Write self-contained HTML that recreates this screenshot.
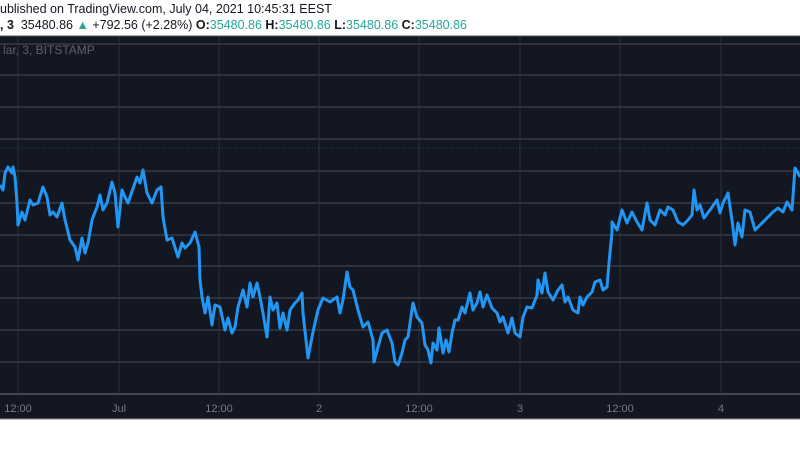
<!DOCTYPE html>
<html><head><meta charset="utf-8"><style>
body{margin:0;width:800px;height:450px;background:#fff;overflow:hidden;font-family:"Liberation Sans",sans-serif}
.h{position:absolute;left:0;font-size:12.5px;color:#131722;white-space:nowrap}
.g{color:#26a69a}
</style></head><body>
<div class="h" style="top:2px">ublished on TradingView.com, July 04, 2021 10:45:31 EEST</div>
<div class="h" style="top:18px"><b>, 3</b>&nbsp; 35480.86 <span class="g">▲</span> +792.56 (+2.28%) <b>O:</b><span class="g">35480.86</span> <b>H:</b><span class="g">35480.86</span> <b>L:</b><span class="g">35480.86</span> <b>C:</b><span class="g">35480.86</span></div>
<svg width="800" height="450" style="position:absolute;left:0;top:0">
<rect x="0" y="36" width="800" height="383" fill="#131722"/>
<line x1="0" y1="36" x2="800" y2="36" fill="none" stroke="#555" stroke-width="1"/>
<g stroke="#4a4e59" stroke-width="1">
<line x1="0" y1="44" x2="800" y2="44"/><line x1="0" y1="75" x2="800" y2="75"/><line x1="0" y1="107" x2="800" y2="107"/><line x1="0" y1="139" x2="800" y2="139"/><line x1="0" y1="171" x2="800" y2="171"/><line x1="0" y1="203" x2="800" y2="203"/><line x1="0" y1="235" x2="800" y2="235"/><line x1="0" y1="266" x2="800" y2="266"/><line x1="0" y1="298" x2="800" y2="298"/><line x1="0" y1="330" x2="800" y2="330"/><line x1="0" y1="362" x2="800" y2="362"/>
</g>
<g stroke="#2e323d" stroke-width="1">
<line x1="18" y1="36" x2="18" y2="394"/><line x1="119" y1="36" x2="119" y2="394"/><line x1="219" y1="36" x2="219" y2="394"/><line x1="319" y1="36" x2="319" y2="394"/><line x1="419" y1="36" x2="419" y2="394"/><line x1="520" y1="36" x2="520" y2="394"/><line x1="620" y1="36" x2="620" y2="394"/><line x1="721" y1="36" x2="721" y2="394"/>
</g>
<line x1="0" y1="148" x2="800" y2="148" stroke="#1e4a6a" stroke-width="1" stroke-dasharray="1,2"/>
<line x1="0" y1="394" x2="800" y2="394" stroke="#434651" stroke-width="2"/>
<line x1="0" y1="419" x2="800" y2="419" stroke="#888" stroke-width="1"/>
<text x="3" y="54" fill="#5d606b" font-size="12" font-family="Liberation Sans, sans-serif">lar, 3, BITSTAMP</text>
<g fill="#787b86" font-size="11" font-family="Liberation Sans, sans-serif" text-anchor="middle">
<text x="18" y="412">12:00</text><text x="119" y="412">Jul</text><text x="219" y="412">12:00</text><text x="319" y="412">2</text><text x="419" y="412">12:00</text><text x="520" y="412">3</text><text x="620" y="412">12:00</text><text x="721" y="412">4</text>
</g>
<polyline fill="none" stroke="#2196f3" stroke-width="3" stroke-linejoin="round" points="0,185 3,190 5,173 8,167 12,173 13,167 15,177 17,203 18,225 22,212 25,220 30,200 33,205 38,203 43,187 47,197 50,215 53,212 57,217 62,203 65,220 70,240 75,247 78,260 82,238 85,253 88,243 92,220 97,207 100,195 103,210 107,203 112,182 115,193 118,227 122,190 125,197 128,203 137,177 140,183 143,170 147,193 152,203 157,190 161,187 163,217 167,240 172,238 178,257 182,243 185,248 190,243 195,232 199,247 200,280 202,297 205,313 208,297 212,325 215,305 220,307 225,330 228,318 232,333 235,327 238,307 243,290 247,307 250,283 253,297 257,283 260,297 263,313 267,337 270,297 273,310 277,303 280,328 283,313 287,330 290,310 295,303 298,300 302,293 303,313 308,358 312,337 315,323 318,310 323,298 330,302 337,297 340,313 343,300 347,272 350,287 353,290 358,310 363,327 368,322 373,340 374,362 378,347 382,333 387,330 392,343 395,362 398,365 402,353 405,340 408,337 413,303 417,317 422,323 425,345 428,350 431,363 433,343 437,350 439,328 443,353 446,340 449,352 452,333 455,320 458,320 462,307 465,313 470,293 473,310 477,303 480,292 483,307 487,295 492,308 497,313 500,322 503,317 508,333 512,318 515,333 520,337 523,317 527,307 532,308 537,295 538,280 542,293 545,273 548,292 553,300 558,290 562,285 565,302 568,297 573,310 578,313 580,297 583,305 587,297 592,292 595,282 600,280 603,290 607,287 609,263 612,232 612,222 617,230 622,210 627,223 632,212 637,222 642,230 647,203 650,220 655,225 660,210 665,215 668,207 673,210 678,222 683,225 688,220 692,215 694,190 697,210 700,205 704,218 710,210 717,200 720,213 723,203 728,193 732,220 735,245 738,223 742,237 745,210 750,212 755,230 760,225 767,218 773,212 778,208 783,212 787,202 792,210 795,168 798,173 800,177"/>
</svg>
</body></html>
